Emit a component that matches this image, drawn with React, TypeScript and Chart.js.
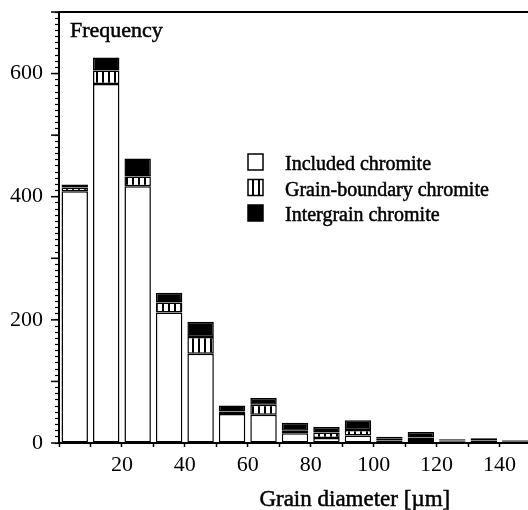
import React, { useEffect, useRef } from 'react';
import { Chart, registerables } from 'chart.js';

Chart.register(...registerables);

// ---- data ----
const binCenters = [5, 15, 25, 35, 45, 55, 65, 75, 85, 95, 105, 115, 125, 135, 145];
const includedChromite = [409, 583, 417, 212, 145, 47, 46, 16, 8, 12, 4, 5, 2, 4, 2];
const grainBoundaryChromite = [6, 22, 16, 16, 27, 4, 16, 4, 9, 9, 3, 4, 2, 3, 2];
const intergrainChromite = [5, 21, 29, 16, 25, 10, 11, 13, 9, 16, 3, 9, 2, 1, 1];
const seriesLabels = ['Included chromite', 'Grain-boundary chromite', 'Intergrain chromite'];
const xTickLabels = [20, 40, 60, 80, 100, 120, 140];
const yTickLabels = [0, 200, 400, 600];
const yAxisLabel = 'Frequency';
const xAxisLabel = 'Grain diameter [µm]';

const SERIF = "'Liberation Serif', 'Times New Roman', serif";

function makeStripePattern(): CanvasPattern | string {
  const c = document.createElement('canvas');
  c.width = 6;
  c.height = 6;
  const g = c.getContext('2d');
  if (!g) return '#888';
  g.fillStyle = '#fff';
  g.fillRect(0, 0, 6, 6);
  g.fillStyle = '#000';
  g.fillRect(0, 0, 2, 6);
  const p = g.createPattern(c, 'repeat');
  return p || '#888';
}

function heavyText(ctx: CanvasRenderingContext2D, text: string, x: number, y: number) {
  ctx.fillText(text, x, y);
  ctx.lineWidth = 0.5;
  ctx.strokeStyle = '#000';
  ctx.strokeText(text, x, y);
}

const decorPlugin = {
  id: 'decor',
  afterDraw(chart: any) {
    const { ctx, chartArea, scales } = chart;
    const yScale = scales.y;
    const xScale = scales.x;
    ctx.save();
    // top frame line
    ctx.strokeStyle = '#000';
    ctx.lineWidth = 2;
    ctx.beginPath();
    ctx.moveTo(chartArea.left - 1, chartArea.top);
    ctx.lineTo(chartArea.right + 10, chartArea.top);
    ctx.stroke();
    // longer ticks at every 100
    ctx.lineWidth = 1.5;
    for (let v = 0; v <= 700; v += 100) {
      const py = yScale.getPixelForValue(v);
      ctx.beginPath();
      ctx.moveTo(chartArea.left - 8, py);
      ctx.lineTo(chartArea.left, py);
      ctx.stroke();
    }
    ctx.fillStyle = '#000';
    ctx.textBaseline = 'alphabetic';
    // y axis label inside the plot
    ctx.font = `22px ${SERIF}`;
    ctx.textAlign = 'left';
    heavyText(ctx, yAxisLabel, 70, 37);
    // x axis title
    ctx.font = `23px ${SERIF}`;
    ctx.textAlign = 'center';
    heavyText(ctx, xAxisLabel, xScale.getPixelForValue(94), 506);
    // legend
    ctx.textAlign = 'left';
    const baselines = [170, 195.5, 221];
    chart.data.datasets.forEach((ds: any, i: number) => {
      const by = baselines[i];
      ctx.fillStyle = ds.backgroundColor;
      ctx.fillRect(248, by - 16, 15, 16);
      ctx.strokeStyle = '#000';
      ctx.lineWidth = 1.5;
      ctx.strokeRect(248, by - 16, 15, 16);
      ctx.fillStyle = '#000';
      ctx.font = `20px ${SERIF}`;
      heavyText(ctx, ds.label, 285, by);
    });
    ctx.restore();
  },
};

export default function App() {
  const ref = useRef<HTMLCanvasElement | null>(null);

  useEffect(() => {
    if (!ref.current) return;
    const stripe = makeStripePattern();
    const mk = (vals: number[]) => binCenters.map((x, i) => ({ x, y: vals[i] }));
    const common = { borderColor: '#000', borderWidth: 1.5, borderSkipped: false as const };
    const chart = new Chart(ref.current, {
      type: 'bar',
      data: {
        datasets: [
          { label: seriesLabels[0], data: mk(includedChromite), backgroundColor: '#ffffff', ...common },
          { label: seriesLabels[1], data: mk(grainBoundaryChromite), backgroundColor: stripe as any, ...common },
          { label: seriesLabels[2], data: mk(intergrainChromite), backgroundColor: '#000000', ...common },
        ],
      },
      options: {
        animation: false,
        responsive: false,
        layout: { padding: { top: 12, right: 9, left: 0, bottom: 0 } },
        datasets: { bar: { categoryPercentage: 1, barPercentage: 0.84 } },
        plugins: { legend: { display: false }, tooltip: { enabled: false } },
        scales: {
          x: {
            type: 'linear',
            stacked: true,
            min: 0,
            max: 150,
            offset: false,
            ticks: {
              stepSize: 10,
              autoSkip: false,
              maxRotation: 0,
              callback: (v: any) => (xTickLabels.includes(Number(v)) ? String(v) : ''),
              font: { family: SERIF, size: 22 },
              color: '#000',
              padding: 5,
            },
            grid: { offset: false, drawOnChartArea: false, tickLength: 4, tickColor: '#000', tickWidth: 1.5 },
            border: { color: '#000', width: 2 },
            title: { display: false },
            afterFit: (s: any) => {
              s.height = 77;
              s.paddingLeft = 0;
              s.paddingRight = 0;
            },
          },
          y: {
            stacked: true,
            min: 0,
            max: 700,
            ticks: {
              stepSize: 10,
              autoSkip: false,
              callback: (v: any) => (yTickLabels.includes(Number(v)) ? String(v) : ''),
              font: { family: SERIF, size: 22 },
              color: '#000',
              padding: 12,
            },
            grid: { drawOnChartArea: false, tickLength: 4, tickColor: '#000', tickWidth: 1.2 },
            border: { color: '#000', width: 2 },
            afterFit: (s: any) => {
              s.width = 59;
              s.paddingTop = 0;
              s.paddingBottom = 0;
            },
          },
        },
      } as any,
      plugins: [decorPlugin],
    });
    return () => chart.destroy();
  }, []);

  return (
    <div
      style={{
        position: 'fixed',
        left: 0,
        top: 0,
        width: 528,
        height: 510,
        overflow: 'hidden',
        background: '#fff',
      }}
    >
      <canvas ref={ref} width={540} height={520} style={{ display: 'block' }} />
    </div>
  );
}
